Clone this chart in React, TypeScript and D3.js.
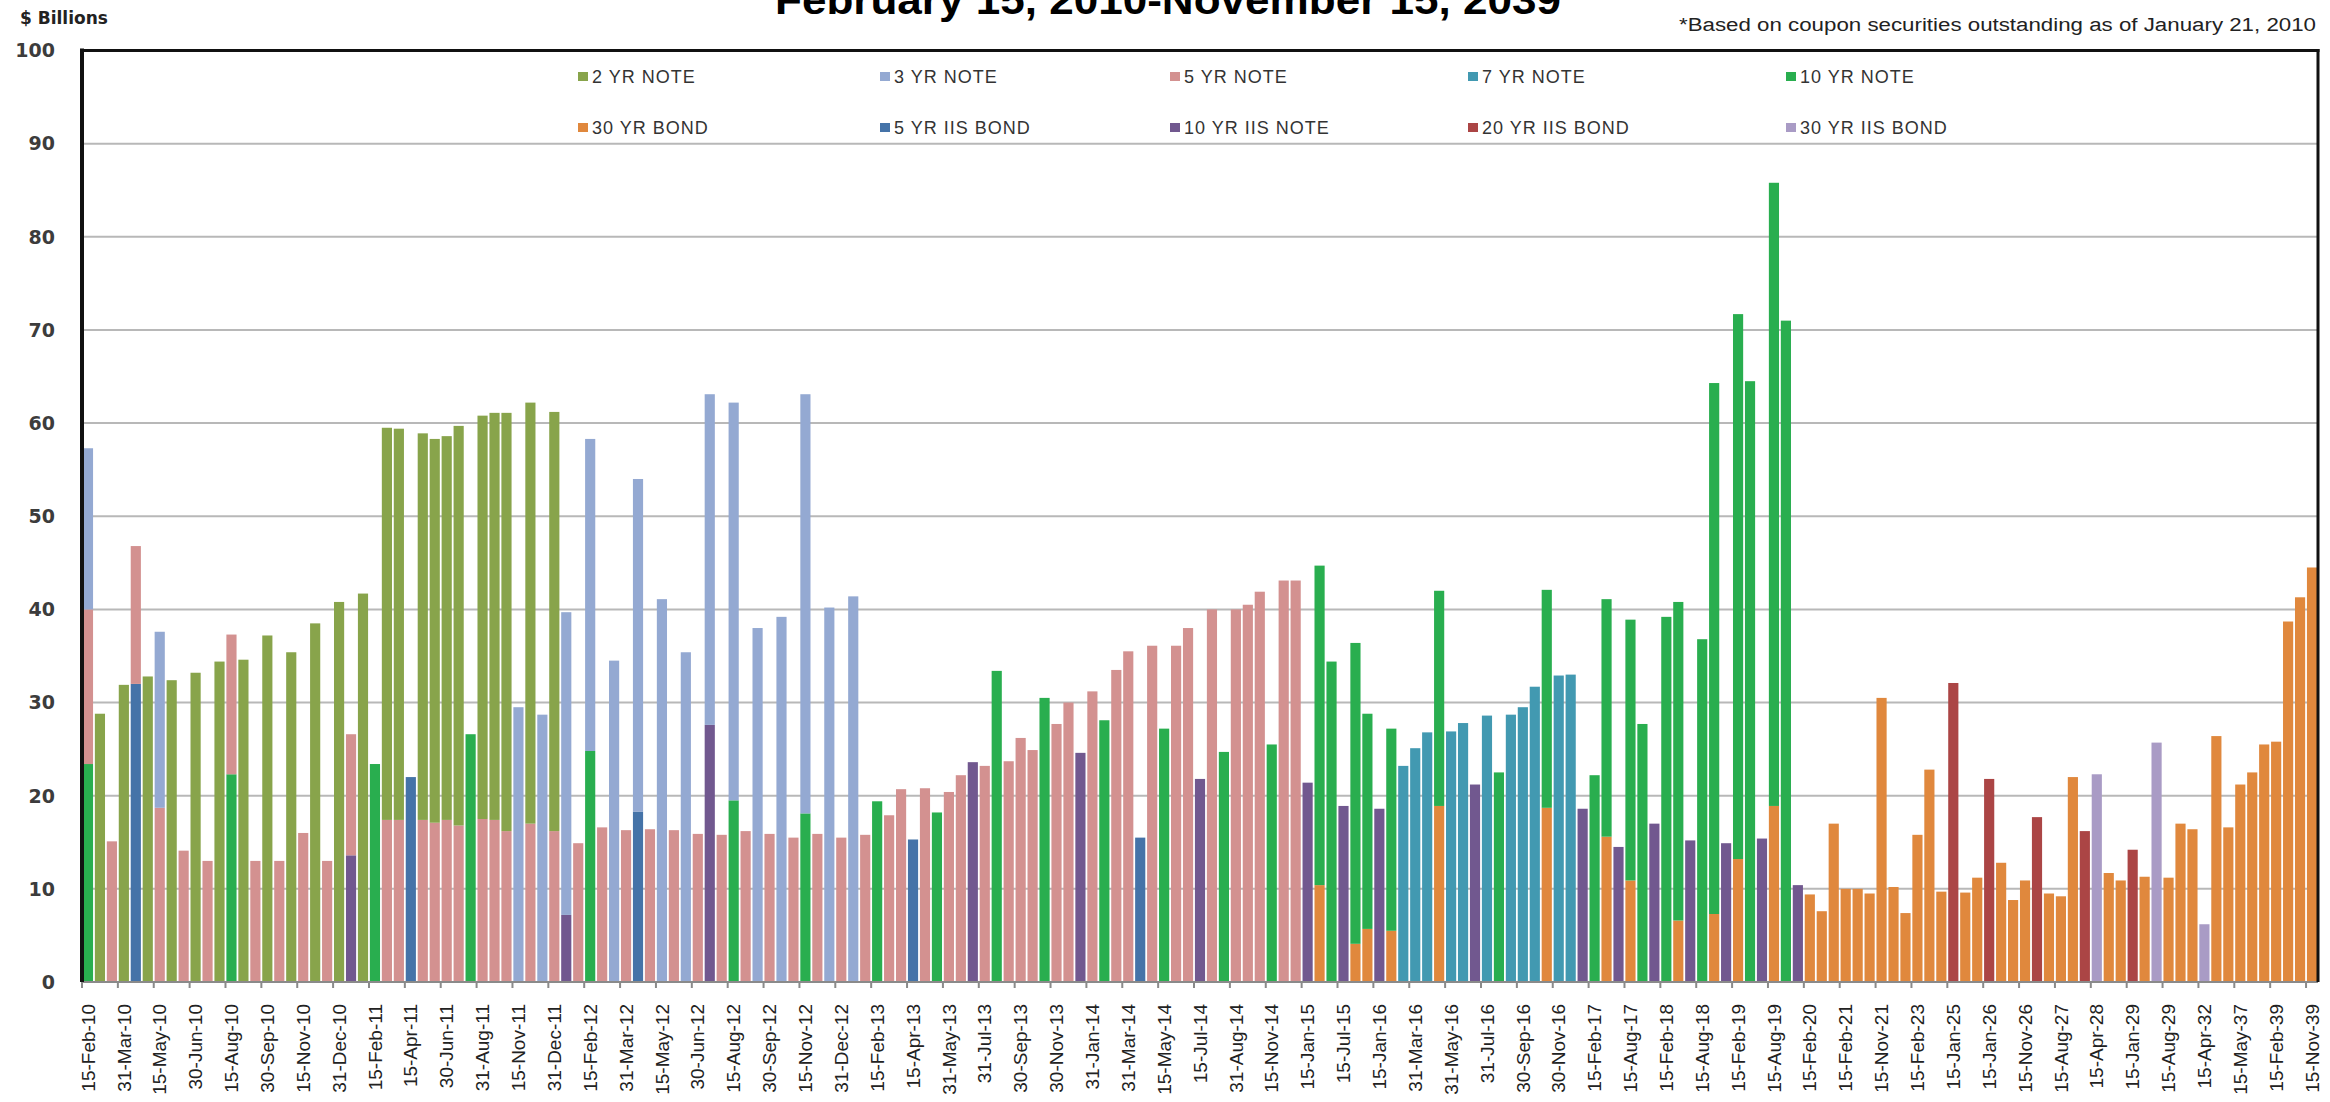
import React from "react";
import * as d3 from "d3";

// maturity dates (category axis), every third one is labelled
const dates = [
  "15-Feb-10", "28-Feb-10", "15-Mar-10", "31-Mar-10", "15-Apr-10", "30-Apr-10", "15-May-10", "31-May-10", "15-Jun-10", "30-Jun-10",
  "15-Jul-10", "31-Jul-10", "15-Aug-10", "31-Aug-10", "15-Sep-10", "30-Sep-10", "15-Oct-10", "31-Oct-10", "15-Nov-10", "30-Nov-10",
  "15-Dec-10", "31-Dec-10", "15-Jan-11", "31-Jan-11", "15-Feb-11", "28-Feb-11", "31-Mar-11", "15-Apr-11", "30-Apr-11", "31-May-11",
  "30-Jun-11", "31-Jul-11", "15-Aug-11", "31-Aug-11", "30-Sep-11", "31-Oct-11", "15-Nov-11", "30-Nov-11", "15-Dec-11", "31-Dec-11",
  "15-Jan-12", "31-Jan-12", "15-Feb-12", "29-Feb-12", "15-Mar-12", "31-Mar-12", "15-Apr-12", "30-Apr-12", "15-May-12", "31-May-12",
  "15-Jun-12", "30-Jun-12", "15-Jul-12", "31-Jul-12", "15-Aug-12", "31-Aug-12", "15-Sep-12", "30-Sep-12", "15-Oct-12", "31-Oct-12",
  "15-Nov-12", "30-Nov-12", "15-Dec-12", "31-Dec-12", "15-Jan-13", "31-Jan-13", "15-Feb-13", "28-Feb-13", "31-Mar-13", "15-Apr-13",
  "30-Apr-13", "15-May-13", "31-May-13", "30-Jun-13", "15-Jul-13", "31-Jul-13", "15-Aug-13", "31-Aug-13", "30-Sep-13", "31-Oct-13",
  "15-Nov-13", "30-Nov-13", "31-Dec-13", "15-Jan-14", "31-Jan-14", "15-Feb-14", "28-Feb-14", "31-Mar-14", "15-Apr-14", "30-Apr-14",
  "15-May-14", "31-May-14", "30-Jun-14", "15-Jul-14", "31-Jul-14", "15-Aug-14", "31-Aug-14", "30-Sep-14", "31-Oct-14", "15-Nov-14",
  "30-Nov-14", "31-Dec-14", "15-Jan-15", "15-Feb-15", "15-May-15", "15-Jul-15", "15-Aug-15", "15-Nov-15", "15-Jan-16", "15-Feb-16",
  "29-Feb-16", "31-Mar-16", "30-Apr-16", "15-May-16", "31-May-16", "30-Jun-16", "15-Jul-16", "31-Jul-16", "15-Aug-16", "31-Aug-16",
  "30-Sep-16", "31-Oct-16", "15-Nov-16", "30-Nov-16", "31-Dec-16", "15-Jan-17", "15-Feb-17", "15-May-17", "15-Jul-17", "15-Aug-17",
  "15-Nov-17", "15-Jan-18", "15-Feb-18", "15-May-18", "15-Jul-18", "15-Aug-18", "15-Nov-18", "15-Jan-19", "15-Feb-19", "15-May-19",
  "15-Jul-19", "15-Aug-19", "15-Nov-19", "15-Jan-20", "15-Feb-20", "15-May-20", "15-Aug-20", "15-Feb-21", "15-May-21", "15-Aug-21",
  "15-Nov-21", "15-Aug-22", "15-Nov-22", "15-Feb-23", "15-Aug-23", "15-Nov-24", "15-Jan-25", "15-Feb-25", "15-Aug-25", "15-Jan-26",
  "15-Feb-26", "15-Aug-26", "15-Nov-26", "15-Jan-27", "15-Feb-27", "15-Aug-27", "15-Nov-27", "15-Jan-28", "15-Apr-28", "15-Aug-28",
  "15-Nov-28", "15-Jan-29", "15-Feb-29", "15-Apr-29", "15-Aug-29", "15-May-30", "15-Feb-31", "15-Apr-32", "15-Feb-36", "15-Feb-37",
  "15-May-37", "15-Feb-38", "15-May-38", "15-Feb-39", "15-May-39", "15-Aug-39", "15-Nov-39",
];

type Pt = [string, number];

const note2: Pt[] = [
  ["28-Feb-10", 28.8], ["31-Mar-10", 31.9], ["30-Apr-10", 32.8], ["31-May-10", 32.4], ["30-Jun-10", 33.2],
  ["31-Jul-10", 34.4], ["31-Aug-10", 34.6], ["30-Sep-10", 37.2], ["31-Oct-10", 35.4], ["30-Nov-10", 38.5],
  ["31-Dec-10", 40.8], ["31-Jan-11", 41.7], ["28-Feb-11", 42.1], ["31-Mar-11", 42.0], ["30-Apr-11", 41.5],
  ["31-May-11", 41.2], ["30-Jun-11", 41.2], ["31-Jul-11", 42.9], ["31-Aug-11", 43.3], ["30-Sep-11", 43.7],
  ["31-Oct-11", 44.9], ["30-Nov-11", 45.2], ["31-Dec-11", 45.0],
];

const note3: Pt[] = [
  ["15-Feb-10", 17.3], ["15-May-10", 18.9], ["15-Nov-11", 29.5], ["15-Dec-11", 28.7], ["15-Jan-12", 32.5],
  ["15-Feb-12", 33.5], ["15-Mar-12", 34.5], ["15-Apr-12", 35.7], ["15-May-12", 41.1], ["15-Jun-12", 35.4],
  ["15-Jul-12", 35.5], ["15-Aug-12", 42.7], ["15-Sep-12", 38.0], ["15-Oct-12", 39.2], ["15-Nov-12", 45.0],
  ["15-Dec-12", 40.2], ["15-Jan-13", 41.4],
];

const note5: Pt[] = [
  ["15-Feb-10", 16.6], ["15-Mar-10", 15.1], ["15-Apr-10", 14.8], ["15-May-10", 18.7], ["15-Jun-10", 14.1],
  ["15-Jul-10", 13.0], ["15-Aug-10", 15.0], ["15-Sep-10", 13.0], ["15-Oct-10", 13.0], ["15-Nov-10", 16.0],
  ["15-Dec-10", 13.0], ["15-Jan-11", 13.0], ["28-Feb-11", 17.4], ["31-Mar-11", 17.4], ["30-Apr-11", 17.4],
  ["31-May-11", 17.1], ["30-Jun-11", 17.4], ["31-Jul-11", 16.8], ["31-Aug-11", 17.5], ["30-Sep-11", 17.4],
  ["31-Oct-11", 16.2], ["30-Nov-11", 17.0], ["31-Dec-11", 16.2], ["31-Jan-12", 14.9], ["29-Feb-12", 16.6],
  ["31-Mar-12", 16.3], ["30-Apr-12", 16.4], ["31-May-12", 16.3], ["30-Jun-12", 15.9], ["31-Jul-12", 15.8],
  ["31-Aug-12", 16.2], ["30-Sep-12", 15.9], ["31-Oct-12", 15.5], ["30-Nov-12", 15.9], ["31-Dec-12", 15.5],
  ["31-Jan-13", 15.8], ["28-Feb-13", 17.9], ["31-Mar-13", 20.7], ["30-Apr-13", 20.8], ["31-May-13", 20.4],
  ["30-Jun-13", 22.2], ["31-Jul-13", 23.2], ["31-Aug-13", 23.7], ["30-Sep-13", 26.2], ["31-Oct-13", 24.9],
  ["30-Nov-13", 27.7], ["31-Dec-13", 30.0], ["31-Jan-14", 31.2], ["28-Feb-14", 33.5], ["31-Mar-14", 35.5],
  ["30-Apr-14", 36.1], ["31-May-14", 36.1], ["30-Jun-14", 38.0], ["31-Jul-14", 40.0], ["31-Aug-14", 40.0],
  ["30-Sep-14", 40.5], ["31-Oct-14", 41.9], ["30-Nov-14", 43.1], ["31-Dec-14", 43.1],
];

const note7: Pt[] = [
  ["29-Feb-16", 23.2], ["31-Mar-16", 25.1], ["30-Apr-16", 26.8], ["31-May-16", 26.9], ["30-Jun-16", 27.8],
  ["31-Jul-16", 28.6], ["31-Aug-16", 28.7], ["30-Sep-16", 29.5], ["31-Oct-16", 31.7], ["30-Nov-16", 32.9],
  ["31-Dec-16", 33.0],
];

const note10: Pt[] = [
  ["15-Feb-10", 23.4], ["15-Aug-10", 22.3], ["15-Feb-11", 23.4], ["15-Aug-11", 26.6], ["15-Feb-12", 24.8],
  ["15-Aug-12", 19.5], ["15-Nov-12", 18.1], ["15-Feb-13", 19.4], ["15-May-13", 18.2], ["15-Aug-13", 33.4],
  ["15-Nov-13", 30.5], ["15-Feb-14", 28.1], ["15-May-14", 27.2], ["15-Aug-14", 24.7], ["15-Nov-14", 25.5],
  ["15-Feb-15", 34.3], ["15-May-15", 34.4], ["15-Aug-15", 32.3], ["15-Nov-15", 23.1], ["15-Feb-16", 21.7],
  ["15-May-16", 23.1], ["15-Aug-16", 22.5], ["15-Nov-16", 23.4], ["15-Feb-17", 22.2], ["15-May-17", 25.5],
  ["15-Aug-17", 28.0], ["15-Nov-17", 27.7], ["15-Feb-18", 39.2], ["15-May-18", 34.2], ["15-Aug-18", 36.8],
  ["15-Nov-18", 57.0], ["15-Feb-19", 58.5], ["15-May-19", 64.5], ["15-Aug-19", 66.9], ["15-Nov-19", 71.0],
];

const bond30: Pt[] = [
  ["15-Feb-15", 10.4], ["15-Aug-15", 4.1], ["15-Nov-15", 5.7], ["15-Feb-16", 5.5], ["15-May-16", 18.9],
  ["15-Nov-16", 18.7], ["15-May-17", 15.6], ["15-Aug-17", 10.9], ["15-May-18", 6.6], ["15-Nov-18", 7.3],
  ["15-Feb-19", 13.2], ["15-Aug-19", 18.9], ["15-Feb-20", 9.4], ["15-May-20", 7.6], ["15-Aug-20", 17.0],
  ["15-Feb-21", 10.0], ["15-May-21", 10.0], ["15-Aug-21", 9.5], ["15-Nov-21", 30.5], ["15-Aug-22", 10.2],
  ["15-Nov-22", 7.4], ["15-Feb-23", 15.8], ["15-Aug-23", 22.8], ["15-Nov-24", 9.7], ["15-Feb-25", 9.6],
  ["15-Aug-25", 11.2], ["15-Feb-26", 12.8], ["15-Aug-26", 8.8], ["15-Nov-26", 10.9], ["15-Feb-27", 9.5],
  ["15-Aug-27", 9.2], ["15-Nov-27", 22.0], ["15-Aug-28", 11.7], ["15-Nov-28", 10.9], ["15-Feb-29", 11.3],
  ["15-Aug-29", 11.2], ["15-May-30", 17.0], ["15-Feb-31", 16.4], ["15-Feb-36", 26.4], ["15-Feb-37", 16.6],
  ["15-May-37", 21.2], ["15-Feb-38", 22.5], ["15-May-38", 25.5], ["15-Feb-39", 25.8], ["15-May-39", 38.7],
  ["15-Aug-39", 41.3], ["15-Nov-39", 44.5],
];

const tips5: Pt[] = [
  ["15-Apr-10", 32.0], ["15-Apr-11", 22.0], ["15-Apr-12", 18.3], ["15-Apr-13", 15.3], ["15-Apr-14", 15.5],
];

const tips10: Pt[] = [
  ["15-Jan-11", 13.6], ["15-Jan-12", 7.2], ["15-Jul-12", 27.6], ["15-Jul-13", 23.6], ["15-Jan-14", 24.6],
  ["15-Jul-14", 21.8], ["15-Jan-15", 21.4], ["15-Jul-15", 18.9], ["15-Jan-16", 18.6], ["15-Jul-16", 21.2],
  ["15-Jan-17", 18.6], ["15-Jul-17", 14.5], ["15-Jan-18", 17.0], ["15-Jul-18", 15.2], ["15-Jan-19", 14.9],
  ["15-Jul-19", 15.4], ["15-Jan-20", 10.4],
];

const tips20: Pt[] = [
  ["15-Jan-25", 32.1], ["15-Jan-26", 21.8], ["15-Jan-27", 17.7], ["15-Jan-28", 16.2], ["15-Jan-29", 14.2],
];

const tips30: Pt[] = [
  ["15-Apr-28", 22.3], ["15-Apr-29", 25.7], ["15-Apr-32", 6.2],
];

const series = [
  { key: "note2", label: "2 YR NOTE", color: "#88a44b", data: note2 },
  { key: "note3", label: "3 YR NOTE", color: "#94a9d2", data: note3 },
  { key: "note5", label: "5 YR NOTE", color: "#d39190", data: note5 },
  { key: "note7", label: "7 YR NOTE", color: "#4299b1", data: note7 },
  { key: "note10", label: "10 YR NOTE", color: "#29ae4f", data: note10 },
  { key: "bond30", label: "30 YR BOND", color: "#e0883d", data: bond30 },
  { key: "tips5", label: "5 YR IIS BOND", color: "#4573a8", data: tips5 },
  { key: "tips10", label: "10 YR IIS NOTE", color: "#71588f", data: tips10 },
  { key: "tips20", label: "20 YR IIS BOND", color: "#ab4545", data: tips20 },
  { key: "tips30", label: "30 YR IIS BOND", color: "#a99bc5", data: tips30 },
];

// bottom to top
const stackOrder = ["bond30", "note10", "tips5", "tips10", "tips20", "tips30", "note7", "note5", "note3", "note2"];

const yTicks = [0, 10, 20, 30, 40, 50, 60, 70, 80, 90, 100];

const W = 2330;
const H = 1102;
const left = 82;
const right = 2318;
const top = 50.5;
const bottom = 982;

const App = () => {
  const rows = dates.map((d) => {
    const row: Record<string, any> = { date: d };
    series.forEach((s) => {
      const hit = s.data.find((p) => p[0] === d);
      row[s.key] = hit ? hit[1] : 0;
    });
    return row;
  });

  const stacked = d3.stack().keys(stackOrder)(rows as any);
  const colorOf = Object.fromEntries(series.map((s) => [s.key, s.color]));

  const x = d3.scaleBand().domain(dates).range([left, right]).paddingInner(0.15).paddingOuter(0.075);
  const y = d3.scaleLinear().domain([0, 100]).range([bottom, top]);
  const bw = x.bandwidth();
  const step = x.step();

  const legendCols = [578, 880, 1170, 1468, 1786];
  const legendRows = [77, 128];

  return (
    <svg
      width={W}
      height={H}
      style={{ position: "absolute", left: 0, top: 0, background: "#fff" }}
      fontFamily="'Liberation Sans', Arial, sans-serif"
    >
      <rect x={0} y={0} width={W} height={H} fill="#fff" />

      {/* gridlines */}
      {yTicks.filter((t) => t > 0 && t < 100).map((t) => (
        <line key={t} x1={left} x2={right} y1={y(t)} y2={y(t)} stroke="#b8b8b8" strokeWidth={2} />
      ))}

      {/* bars */}
      {stacked.map((layer) => (
        <g key={layer.key} fill={colorOf[layer.key]}>
          {layer.map((seg, i) =>
            seg[1] - seg[0] > 0 ? (
              <rect
                key={i}
                x={x(dates[i])}
                y={y(seg[1])}
                width={bw}
                height={y(seg[0]) - y(seg[1])}
              />
            ) : null
          )}
        </g>
      ))}

      {/* y axis labels */}
      {yTicks.map((t) => (
        <text
          key={t}
          x={55}
          y={y(t)}
          dy="0.36em"
          textAnchor="end"
          fontFamily="'DejaVu Sans', sans-serif"
          fontWeight="bold"
          fontSize={19}
          fill="#3c3c3c"
        >
          {t}
        </text>
      ))}

      {/* x axis */}
      <line x1={left} x2={right} y1={bottom} y2={bottom} stroke="#8a8a8a" strokeWidth={2} />
      {dates.map((d, i) =>
        i % 3 === 0 ? (
          <line
            key={"t" + d}
            x1={left + i * step}
            x2={left + i * step}
            y1={bottom}
            y2={bottom + 6}
            stroke="#8a8a8a"
            strokeWidth={2}
          />
        ) : null
      )}
      {dates.map((d, i) =>
        i % 3 === 0 ? (
          <text
            key={"l" + d}
            transform={`translate(${(x(d) as number) + bw / 2},1004) rotate(-90)`}
            dy="0.35em"
            textAnchor="end"
            fontSize={19}
            fill="#222"
          >
            {d}
          </text>
        ) : null
      )}

      {/* frame */}
      <line x1={left} x2={left} y1={top - 2} y2={bottom} stroke="#111" strokeWidth={4} />
      <line x1={left - 2} x2={right + 1.5} y1={top} y2={top} stroke="#111" strokeWidth={3} />
      <line x1={right} x2={right} y1={top - 1.5} y2={bottom} stroke="#111" strokeWidth={3} />

      {/* legend */}
      {series.map((s, i) => {
        const lx = legendCols[i % 5];
        const ly = legendRows[Math.floor(i / 5)];
        return (
          <g key={s.key}>
            <rect x={lx} y={ly - 5} width={10} height={9} fill={s.color} />
            <text x={lx + 14} y={ly} dy="0.35em" fontSize={18} letterSpacing={1} fill="#333">
              {s.label}
            </text>
          </g>
        );
      })}

      {/* titles */}
      <text
        x={1168}
        y={14}
        textAnchor="middle"
        fontWeight="bold"
        fontSize={40}
        textLength={786}
        lengthAdjust="spacingAndGlyphs"
        fill="#000"
      >
        February 15, 2010-November 15, 2039
      </text>
      <text x={20} y={24} fontFamily="'DejaVu Sans', sans-serif" fontWeight="bold" fontSize={17} fill="#222">
        $ Billions
      </text>
      <text
        x={2316}
        y={31}
        textAnchor="end"
        fontSize={18}
        textLength={637}
        lengthAdjust="spacingAndGlyphs"
        fill="#222"
      >
        *Based on coupon securities outstanding as of January 21, 2010
      </text>
    </svg>
  );
};

export default App;
